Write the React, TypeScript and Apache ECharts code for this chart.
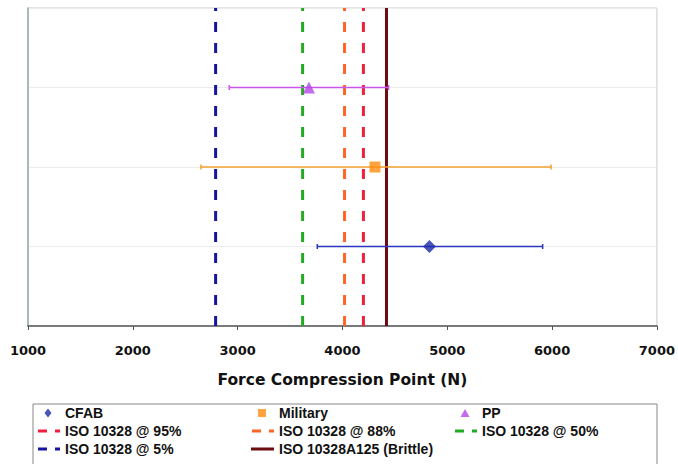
import React, { useEffect, useRef } from "react";
import * as echarts from "echarts";

// Samples
const sampleNames = ["CFAB", "Military", "PP"];
const sampleY = [1, 2, 3];
const sampleMean = [4830, 4310, 3680];
const sampleLow = [3760, 2650, 2920];
const sampleHigh = [5910, 5990, 4440];
const sampleColors = ["#1c2aa8", "#ff8c10", "#b545e8"];
const barColors = ["#2a36c0", "#f5a030", "#cc55ee"];
const sampleSymbols = ["diamond", "rect", "triangle"];

// ISO reference lines
const isoNames = [
  "ISO 10328 @ 95%",
  "ISO 10328 @ 88%",
  "ISO 10328 @ 50%",
  "ISO 10328 @ 5%",
  "ISO 10328A125 (Brittle)",
];
const isoValues = [4200, 4020, 3620, 2790, 4420];
const isoColors = ["#f0203c", "#ff6424", "#22aa22", "#1414a0", "#6a0c10"];
const isoDashed = [true, true, true, true, false];

const xTicks = [1000, 7000, 1000];

// legend icon paths, all with a 24x10 bounding box
const BOX = "M0,0h0.01v0.01h-0.01z M23.99,9.99h0.01v0.01h-0.01z ";
const ICON_DASH = "path://" + BOX + "M2,3.5h9v3h-9z M19,3.5h5v3h-5z";
const ICON_SOLID = "path://" + BOX + "M1,3.5h23v3h-23z";
const ICON_MARK: Record<string, string> = {
  diamond: "path://" + BOX + "M12,0.5L15.5,5L12,9.5L8.5,5Z",
  rect: "path://" + BOX + "M8,1h8v8h-8z",
  triangle: "path://" + BOX + "M12,1L16.5,9L7.5,9Z",
};

export default function App() {
  const ref = useRef<HTMLDivElement>(null);
  useEffect(() => {
    if (!ref.current) return;
    const chart = echarts.init(ref.current, undefined, { renderer: "svg" });

    const series: any[] = [];
    isoNames.forEach((n, i) => {
      series.push({
        name: n,
        type: "line",
        symbol: "none",
        data: [
          [isoValues[i], 0],
          [isoValues[i], 4],
        ],
        lineStyle: {
          color: isoColors[i],
          width: 3,
          type: isoDashed[i] ? [10, 11] : "solid",
        },
        itemStyle: { color: isoColors[i] },
        z: isoDashed[i] ? 2 : 3,
      });
    });
    series.push({
      name: "errbars",
      type: "custom",
      data: sampleNames.map((_, i) => [sampleY[i], sampleLow[i], sampleHigh[i], i]),
      renderItem: (params: any, api: any) => {
        const y = api.value(0);
        const lo = api.coord([api.value(1), y]);
        const hi = api.coord([api.value(2), y]);
        const c = barColors[api.value(3)];
        const st = { stroke: c, lineWidth: 1.5 };
        return {
          type: "group",
          children: [
            { type: "line", shape: { x1: lo[0], y1: lo[1], x2: hi[0], y2: hi[1] }, style: st },
            { type: "line", shape: { x1: lo[0], y1: lo[1] - 2.5, x2: lo[0], y2: lo[1] + 2.5 }, style: st },
            { type: "line", shape: { x1: hi[0], y1: hi[1] - 2.5, x2: hi[0], y2: hi[1] + 2.5 }, style: st },
          ],
        };
      },
      z: 4,
    });
    sampleNames.forEach((n, i) => {
      series.push({
        name: n,
        type: "scatter",
        symbol: sampleSymbols[i],
        symbolSize: i === 2 ? 12 : i === 0 ? 13 : 11,
        data: [[sampleMean[i], sampleY[i]]],
        itemStyle: { color: sampleColors[i] },
        z: 5,
      });
    });

    const legendText = {
      fontFamily: "Liberation Sans",
      fontWeight: "bold",
      fontSize: 14,
      lineHeight: 14,
      color: "#111",
    };
    const iconFor = (name: string) => {
      const si = sampleNames.indexOf(name);
      if (si >= 0) return ICON_MARK[sampleSymbols[si]];
      const ii = isoNames.indexOf(name);
      return isoDashed[ii] ? ICON_DASH : ICON_SOLID;
    };
    const mkLegend = (names: string[], left: number) => ({
      data: names.map((n) => ({ name: n, icon: iconFor(n) })),
      orient: "vertical",
      left,
      top: 406,
      itemWidth: 24,
      itemHeight: 10,
      itemGap: 4,
      itemStyle: { borderWidth: 0 },
      textStyle: legendText,
      selectedMode: false,
      padding: 0,
    });

    chart.setOption({
      animation: false,
      backgroundColor: "#fff",
      grid: {
        left: 28,
        right: 20,
        top: 8,
        bottom: 138,
        show: true,
        borderColor: "#c8c8c8",
        borderWidth: 1,
      },
      xAxis: {
        type: "value",
        min: xTicks[0],
        max: xTicks[1],
        interval: xTicks[2],
        axisLine: { show: true, lineStyle: { color: "#555", width: 1.5 } },
        axisTick: { show: true, length: 4, lineStyle: { color: "#555" } },
        splitLine: { show: false },
        axisLabel: {
          fontFamily: "DejaVu Sans",
          fontWeight: "bold",
          fontSize: 13,
          color: "#111",
          margin: 18,
          formatter: (v: number) => String(v),
        },
        name: "Force Compression Point (N)",
        nameLocation: "middle",
        nameGap: 46,
        nameTextStyle: {
          fontFamily: "DejaVu Sans",
          fontWeight: "bold",
          fontSize: 15.5,
          color: "#111",
        },
      },
      yAxis: {
        type: "value",
        min: 0,
        max: 4,
        interval: 1,
        axisLine: { show: true, lineStyle: { color: "#9aa8a8", width: 1.5 } },
        axisTick: { show: false },
        axisLabel: { show: false },
        splitLine: { show: true, lineStyle: { color: "#ececec", width: 1 } },
      },
      legend: [
        mkLegend(["CFAB", isoNames[0], isoNames[3]], 36),
        mkLegend(["Military", isoNames[1], isoNames[4]], 250),
        mkLegend(["PP", isoNames[2]], 453),
      ],
      graphic: [
        {
          type: "rect",
          shape: { x: 33, y: 404, width: 624, height: 70 },
          style: { fill: "none", stroke: "#888", lineWidth: 1 },
          silent: true,
        },
      ],
      series,
    });
    return () => chart.dispose();
  }, []);
  return (
    <div
      ref={ref}
      style={{ position: "fixed", left: 0, top: 0, width: 678, height: 464 }}
    />
  );
}
